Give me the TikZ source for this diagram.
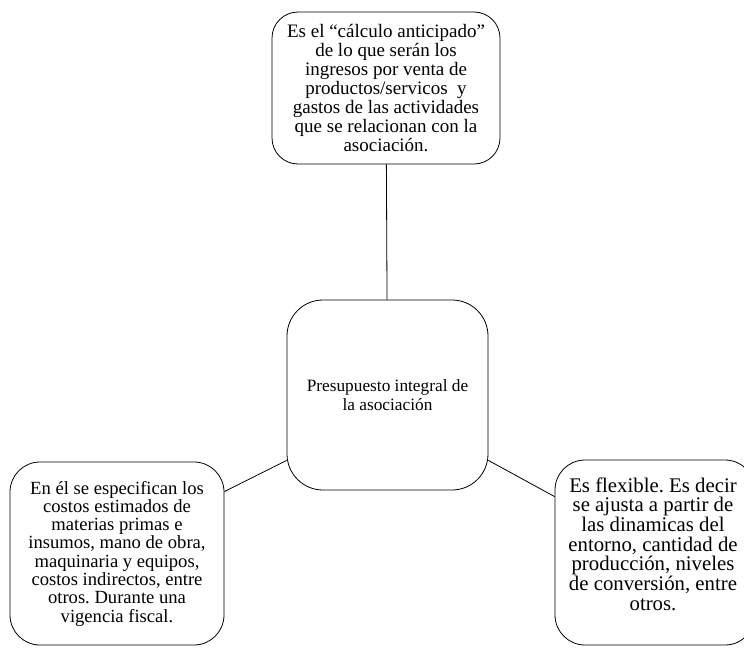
\documentclass[tikz,border=0pt]{standalone}
\usepackage{fontspec}
\setmainfont{Liberation Serif}
\usetikzlibrary{positioning,calc}
\frenchspacing

\begin{document}
\begin{tikzpicture}[x=1pt, y=1pt, every node/.style={rectangle, draw, align=center, line width=0.8pt, inner sep=0pt}]
    \useasboundingbox (0,0) rectangle (744,-648);
    \node [minimum width=228pt, minimum height=152pt, rounded corners=26pt, font=\fontsize{19}{19}\selectfont] (def) at (386,-88) {Es el “cálculo anticipado”\\de lo que serán los\\ingresos por venta de\\productos/servicos~ y\\gastos de las actividades\\que se relacionan con la\\asociación.};
    \node [minimum width=201pt, minimum height=190pt, rounded corners=36pt, font=\fontsize{17.3}{18.5}\selectfont] (ppto) at (387.5,-395) {Presupuesto integral de\\la asociación};
    \node [minimum width=214pt, minimum height=183pt, rounded corners=30pt, font=\fontsize{18.6}{18.3}\selectfont] (costos) at (117,-553.5) {En él se especifican los\\costos estimados de\\materias primas e\\insumos, mano de obra,\\maquinaria y equipos,\\costos indirectos, entre\\otros. Durante una\\vigencia fiscal.};
    \node [minimum width=200pt, minimum height=185pt, rounded corners=30pt] (flex) at (655,-552.5) {};
    \node [draw=none, font=\fontsize{20.8}{19.7}\selectfont] (flextxt) at (653,-544) {Es flexible. Es decir\\se ajusta a partir de\\las dinamicas del\\entorno, cantidad de\\producción, niveles\\de conversión, entre\\otros.};

    \draw [line width=0.8pt] (def) -- (ppto);
    \draw [line width=0.8pt] ([yshift=-30pt]costos.north east) -- ([yshift=30pt]ppto.south west);
    \draw [line width=0.8pt] ([yshift=30pt]ppto.south east) -- ([yshift=-37pt]flex.north west);
\end{tikzpicture}
\end{document}
